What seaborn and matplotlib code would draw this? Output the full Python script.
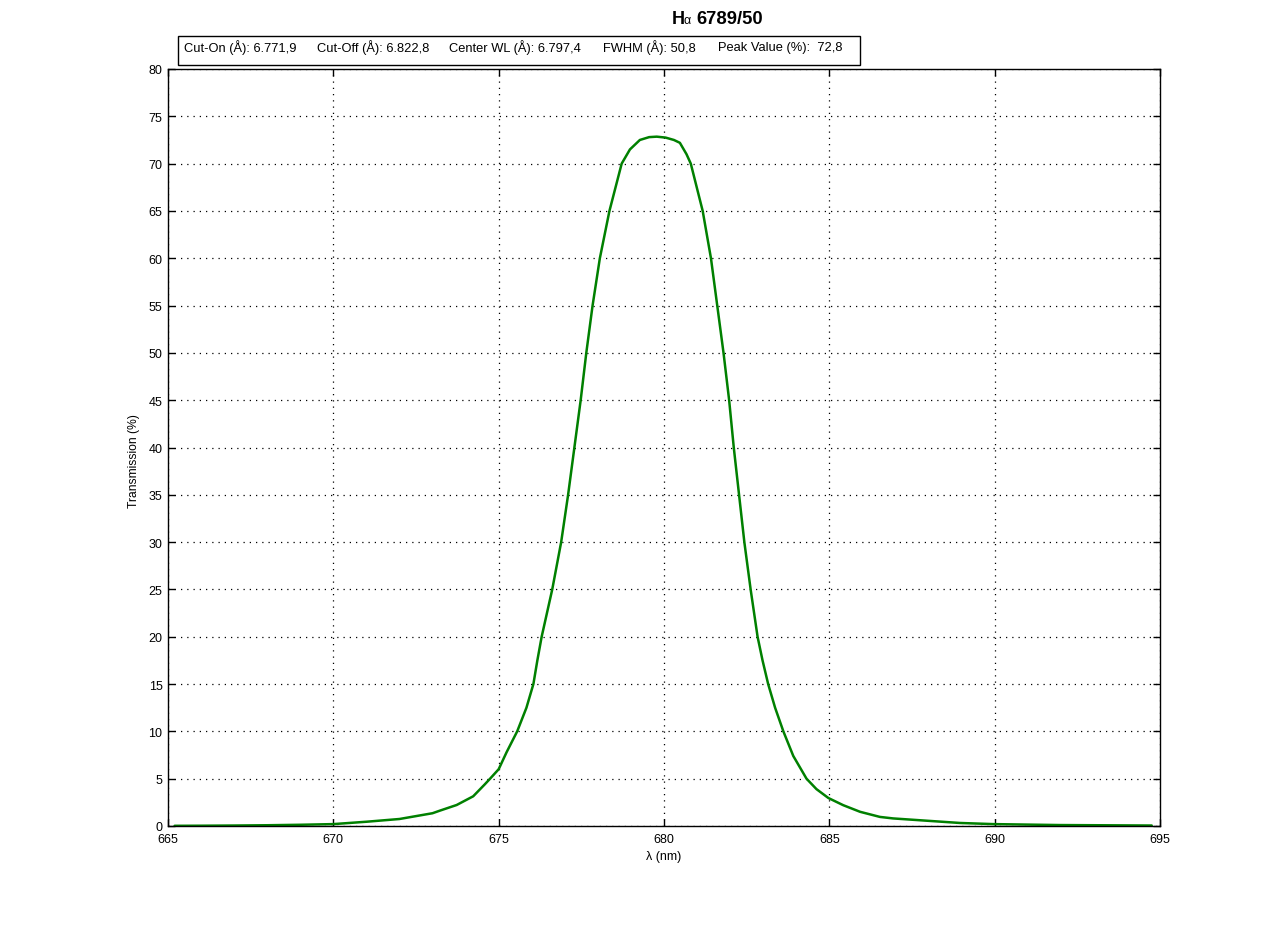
import numpy as np
import pandas as pd
import matplotlib
matplotlib.use("Agg")
import matplotlib.pyplot as plt
from matplotlib.patches import Rectangle
import seaborn as sns

# ---- data ----
wavelength_nm = [665.2, 666.0, 667.0, 668.0, 669.0, 670.0, 671.0, 672.0, 673.0, 673.22,
                 673.73, 674.23, 674.58, 674.74, 675.0, 675.24, 675.56, 675.84, 676.05, 676.17,
                 676.3, 676.62, 676.89, 677.1, 677.29, 677.48, 677.65, 677.84, 678.06, 678.35,
                 678.72, 678.97, 679.27, 679.55, 679.78, 680.05, 680.3, 680.48, 680.68, 680.81,
                 681.17, 681.42, 681.61, 681.8, 681.97, 682.11, 682.27, 682.43, 682.62, 682.83,
                 682.98, 683.15, 683.36, 683.61, 683.91, 684.31, 684.61, 684.97, 685.42, 685.93,
                 686.53, 686.93, 687.94, 688.95, 689.96, 691.97, 694.75]
transmission = [0.02, 0.03, 0.05, 0.08, 0.13, 0.2, 0.45, 0.74, 1.35, 1.62,
                2.22, 3.14, 4.4, 5.0, 6.0, 7.8, 10.0, 12.5, 15.0, 17.5,
                20.0, 25.0, 30.0, 35.0, 40.0, 45.0, 50.0, 55.0, 60.0, 65.0,
                70.0, 71.5, 72.5, 72.8, 72.85, 72.75, 72.5, 72.2, 71.0, 70.0,
                65.0, 60.0, 55.0, 50.0, 45.0, 40.0, 35.0, 30.0, 25.0, 20.0,
                17.5, 15.0, 12.5, 10.0, 7.4, 5.0, 3.9, 2.96, 2.2, 1.5,
                0.96, 0.8, 0.56, 0.32, 0.2, 0.1, 0.05]

x_ticks = [665, 670, 675, 680, 685, 690, 695]
y_ticks = list(range(0, 81, 5))

title_parts = ["H", "\u03b1", "6789/50"]
info_labels = ["Cut-On (\u00c5): 6.771,9", "Cut-Off (\u00c5): 6.822,8",
               "Center WL (\u00c5): 6.797,4", "FWHM (\u00c5): 50,8",
               "Peak Value (%):  72,8"]

# ---- figure ----
sns.set_style("white")
plt.rcParams["font.family"] = ["Liberation Sans", "DejaVu Sans"]
plt.rcParams["text.color"] = "black"
plt.rcParams["axes.labelcolor"] = "black"

W, H = 1281, 929
fig = plt.figure(figsize=(W / 100, H / 100), dpi=100)
ax = fig.add_axes([168 / W, 1 - 827 / H, (1160 - 168) / W, (827 - 70) / H])

df = pd.DataFrame({"wl": wavelength_nm, "T": transmission})
sns.lineplot(data=df, x="wl", y="T", ax=ax, color="#008000", lw=1.8, sort=False)

ax.set_xlim(665, 695)
ax.set_ylim(0, 80)
ax.set_xticks(x_ticks)
ax.set_yticks(y_ticks)
ax.set_xticklabels([str(t) for t in x_ticks])
ax.set_yticklabels([str(t) for t in y_ticks])
ax.tick_params(direction="in", length=5, width=1, colors="black", labelsize=9,
               top=True, right=True, bottom=True, left=True)
ax.tick_params(axis="x", pad=5)
ax.tick_params(axis="y", pad=4)
for s in ax.spines.values():
    s.set_visible(True)
    s.set_color("black")
    s.set_linewidth(1)
ax.grid(True, linestyle=(0, (1, 4)), color="black", linewidth=0.9)
ax.set_axisbelow(True)

ax.set_xlabel("\u03bb (nm)", fontsize=9, color="black")
ax.xaxis.set_label_coords(0.5, -(857 - 827) / 757, transform=ax.transAxes)
ax.xaxis.label.set_va("center")
ax.set_ylabel("Transmission (%)", fontsize=8.7, color="black")
ax.yaxis.set_label_coords(-(168 - 134) / 992, (827 - 461) / 757)
ax.yaxis.label.set_va("center")

# title
ty = 1 - 20 / H
fig.text(672 / W, ty, title_parts[0], fontsize=13, fontweight="bold", va="center",
         ha="left", color="black")
fig.text(684 / W, ty - 1.5 / H, title_parts[1], fontsize=9, va="center", ha="left",
         color="black")
fig.text(696 / W, ty, title_parts[2], fontsize=13.3, fontweight="bold", va="center",
         ha="left", color="black")

# info box
fig.patches.append(Rectangle((178 / W, 1 - 66 / H), (860 - 178) / W, (66 - 37) / H,
                             transform=fig.transFigure, fill=False, edgecolor="black",
                             linewidth=1))
info_x = [184, 317, 449, 603, 718]
for xp, lab in zip(info_x, info_labels):
    fig.text(xp / W, 1 - 48 / H, lab, fontsize=9.3, va="center", ha="left", color="black")

fig.savefig("out.png", dpi=100, facecolor="white")
